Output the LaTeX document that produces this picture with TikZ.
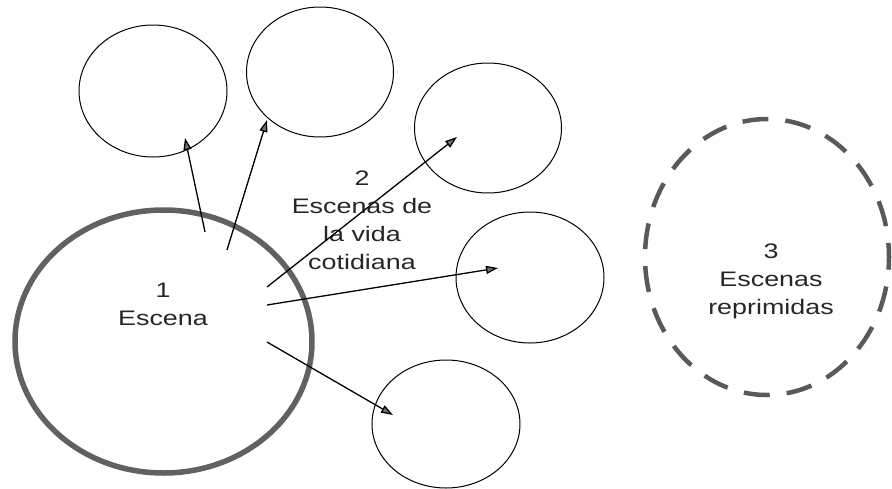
\documentclass[tikz,border=0pt]{standalone}
\usepackage{fontspec}
\newfontfamily\lbl[FakeStretch=1.28]{Liberation Sans}
\usetikzlibrary{shapes.geometric,arrows.meta}
\tikzset{
  scene/.style={draw=black, line width=1pt, ellipse, inner sep=0pt},
  mainscene/.style={draw=black!62, line width=5.5pt, ellipse, inner sep=0pt},
  repressed/.style={draw=black!65, line width=4.5pt, ellipse, inner sep=0pt,
     dash pattern=on 26pt off 17pt, dash phase=12pt},
  lab/.style={font=\lbl\fontsize{21}{28}\selectfont, align=center, text=black!85, inner sep=0pt},
  arr/.style={line width=1.3pt, -{Triangle[length=12pt,width=8pt,fill=black!55]}}
}
\begin{document}
\begin{tikzpicture}[x=1pt,y=-1pt]
\useasboundingbox (0,0) rectangle (892,488);
% ellipses
\node[mainscene, minimum width=297pt, minimum height=263pt] (big) at (163.5,341.5) {};
\node[scene, minimum width=148pt, minimum height=132pt] (c1) at (153,91) {};
\node[scene, minimum width=147pt, minimum height=130pt] (c2) at (320,72) {};
\node[scene, minimum width=147pt, minimum height=130pt] (c3) at (488,128) {};
\node[scene, minimum width=148pt, minimum height=131pt] (c4) at (530,277.5) {};
\node[scene, minimum width=148pt, minimum height=128pt] (c5) at (446,424) {};
\node[repressed, minimum width=244pt, minimum height=276pt] (rep) at (767,257) {};
% labels
\node[lab] (l1) at (163,304) {1\\Escena};
\node[lab] (l2) at (362,220.5) {2\\Escenas de\\la vida\\cotidiana};
\node[lab] (l3) at (771,281) {3\\Escenas\\reprimidas};
% arrow ends
\coordinate (s1) at (205,232);
\coordinate (s2) at (227,250);
\coordinate (s3) at (267,287);
\coordinate (s4) at (267,305);
\coordinate (s5) at (267,342);
\coordinate (t1) at (185,138);
\coordinate (t2) at (267,120);
\coordinate (t3) at (457,137);
\coordinate (t4) at (498,268);
\coordinate (t5) at (393,415);
\draw[arr] (s1) -- (t1);
\draw[arr] (s2) -- (t2);
\draw[arr] (s3) -- (t3);
\draw[arr] (s4) -- (t4);
\draw[arr] (s5) -- (t5);
\end{tikzpicture}
\end{document}
